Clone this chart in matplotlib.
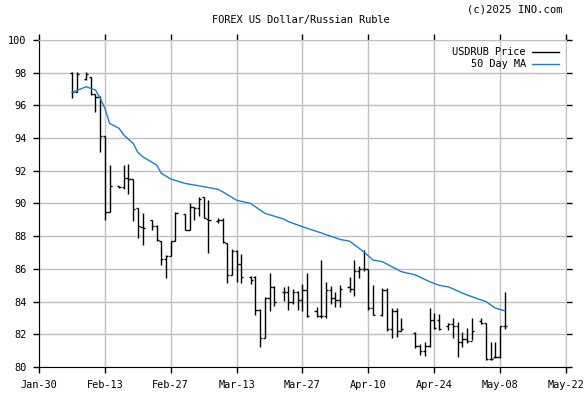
'''
FOREX US Dollar/Russian Ruble - daily bars with 50 day moving average
'''
from datetime import date

import matplotlib
matplotlib.use('Agg')
import matplotlib.pyplot as plt
import matplotlib.dates as mdates

# trading days (Sunday-Friday sessions)
days = ['2025-02-06', '2025-02-07', '2025-02-09', '2025-02-10', '2025-02-11', '2025-02-12',
        '2025-02-13', '2025-02-14', '2025-02-16', '2025-02-17', '2025-02-18', '2025-02-19',
        '2025-02-20', '2025-02-21', '2025-02-23', '2025-02-24', '2025-02-25', '2025-02-26',
        '2025-02-27', '2025-02-28', '2025-03-02', '2025-03-03', '2025-03-04', '2025-03-05',
        '2025-03-06', '2025-03-07', '2025-03-09', '2025-03-10', '2025-03-11', '2025-03-12',
        '2025-03-13', '2025-03-14', '2025-03-16', '2025-03-17', '2025-03-18', '2025-03-19',
        '2025-03-20', '2025-03-21', '2025-03-23', '2025-03-24', '2025-03-25', '2025-03-26',
        '2025-03-27', '2025-03-28', '2025-03-30', '2025-03-31', '2025-04-01', '2025-04-02',
        '2025-04-03', '2025-04-04', '2025-04-06', '2025-04-07', '2025-04-08', '2025-04-09',
        '2025-04-10', '2025-04-11', '2025-04-13', '2025-04-14', '2025-04-15', '2025-04-16',
        '2025-04-17', '2025-04-20', '2025-04-21', '2025-04-22', '2025-04-23', '2025-04-24',
        '2025-04-25', '2025-04-27', '2025-04-28', '2025-04-29', '2025-04-30', '2025-05-01',
        '2025-05-02', '2025-05-04', '2025-05-05', '2025-05-06', '2025-05-07', '2025-05-08',
        '2025-05-09']

opens = [98.0, 96.8, 97.6, 97.75, 96.7, 96.5, 94.1, 89.5, 91.05, 91.0, 91.55, 91.5,
         89.7, 88.55, 89.0, 88.6, 87.7, 86.6, 86.8, 87.7, 89.36, 88.4, 89.8, 89.7,
         90.4, 89.03, 88.9, 89.0, 87.6, 85.63, 87.1, 86.3, 85.5, 85.5, 83.5, 81.8,
         84.2, 84.9, 84.6, 84.6, 84.0, 84.6, 84.1, 84.7, 83.4, 83.1, 83.1, 84.7,
         84.2, 84.1, 84.9, 84.8, 85.9, 86.0, 86.0, 83.6, 83.2, 84.7, 82.3, 83.4,
         82.2, 82.1, 81.3, 81.0, 81.3, 82.9, 82.9, 82.5, 82.6, 82.5, 81.5, 81.7,
         81.6, 82.8, 82.7, 80.5, 80.6, 80.6, 82.5]
highs = [98.06, 98.06, 98.06, 97.76, 96.7, 96.6, 94.1, 92.35, 91.1, 92.35, 92.4, 91.5,
         89.7, 89.4, 89.0, 88.68, 87.7, 86.85, 87.7, 89.5, 89.36, 90.0, 89.8, 90.42,
         90.42, 90.2, 89.09, 89.09, 87.6, 87.2, 87.16, 86.9, 85.55, 85.57, 83.53, 84.26,
         85.77, 84.95, 84.87, 84.95, 84.75, 84.67, 85.1, 85.77, 83.7, 86.54, 85.22, 84.95,
         84.6, 85.01, 85.5, 86.54, 86.2, 87.16, 86.0, 85.0, 84.85, 84.81, 83.59, 83.63,
         83.0, 82.12, 81.4, 81.55, 83.59, 83.28, 83.22, 82.67, 82.98, 82.73, 82.16, 82.4,
         82.98, 82.98, 82.7, 81.55, 81.55, 82.53, 84.57]
lows = [96.45, 96.8, 97.55, 96.64, 95.62, 93.13, 89.0, 89.5, 90.95, 90.9, 90.6, 88.9,
        87.87, 87.46, 88.38, 87.7, 86.24, 85.42, 86.8, 87.7, 88.38, 88.38, 89.0, 89.25,
        89.09, 87.0, 88.79, 87.6, 85.12, 85.6, 85.2, 85.16, 85.1, 83.18, 81.24, 81.8,
        83.44, 83.73, 84.06, 83.49, 83.85, 83.49, 83.44, 83.04, 83.07, 82.98, 82.98, 83.85,
        83.65, 83.69, 84.57, 84.36, 85.42, 85.87, 83.49, 83.18, 83.14, 82.2, 81.79, 81.85,
        82.2, 81.14, 80.73, 80.7, 81.24, 82.32, 82.26, 82.26, 81.75, 80.63, 81.24, 81.45,
        81.65, 82.61, 80.4, 80.4, 80.57, 80.57, 82.32]
closes = [96.8, 97.9, 97.9, 96.7, 96.5, 94.1, 89.5, 91.1, 91.0, 91.55, 91.5, 89.65,
          88.65, 88.5, 88.6, 87.75, 86.6, 86.8, 87.7, 89.4, 88.4, 89.8, 89.7, 90.3,
          89.1, 89.0, 89.0, 87.65, 85.63, 87.1, 86.3, 85.5, 85.3, 83.5, 81.75, 84.2,
          84.9, 84.0, 84.6, 84.0, 84.6, 84.1, 84.7, 83.1, 83.1, 83.1, 84.7, 84.2,
          84.1, 84.8, 84.8, 85.9, 86.0, 86.0, 83.6, 83.2, 84.7, 82.3, 83.4, 82.2,
          82.3, 81.3, 81.0, 81.3, 82.9, 82.4, 82.3, 82.6, 82.5, 81.5, 81.7, 81.6,
          82.2, 82.7, 80.5, 80.5, 80.6, 82.5, 82.5]

# 50 day moving average at a set of dates
ma_days = ['2025-02-06', '2025-02-09', '2025-02-11', '2025-02-12', '2025-02-13', '2025-02-14',
           '2025-02-16', '2025-02-17', '2025-02-19', '2025-02-20', '2025-02-21', '2025-02-24',
           '2025-02-25', '2025-02-27', '2025-03-02', '2025-03-06', '2025-03-09', '2025-03-10',
           '2025-03-13', '2025-03-16', '2025-03-19', '2025-03-23', '2025-03-24', '2025-03-28',
           '2025-03-31', '2025-04-02', '2025-04-04', '2025-04-06', '2025-04-09', '2025-04-11',
           '2025-04-13', '2025-04-17', '2025-04-20', '2025-04-23', '2025-04-25', '2025-04-27',
           '2025-05-01', '2025-05-05', '2025-05-07', '2025-05-09']
ma_values = [96.8, 97.14, 96.94, 96.43, 95.82, 94.9, 94.6, 94.19, 93.68, 93.13, 92.87, 92.35,
             91.85, 91.5, 91.23, 91.03, 90.87, 90.72, 90.2, 90.0, 89.4, 89.05, 88.89, 88.48,
             88.2, 88.0, 87.8, 87.7, 87.05, 86.54, 86.44, 85.83, 85.63, 85.22, 85.0, 84.9,
             84.4, 84.0, 83.6, 83.44]

x_ticks = ['2025-01-30', '2025-02-13', '2025-02-27', '2025-03-13', '2025-03-27',
           '2025-04-10', '2025-04-24', '2025-05-08', '2025-05-22']
y_ticks = list(range(80, 101, 2))


def to_num(lst):
    return [mdates.date2num(date.fromisoformat(d)) for d in lst]


def draw_graph():
    plt.rcParams['font.family'] = 'DejaVu Sans Mono'
    fig = plt.figure(figsize=(5.85, 3.94), dpi=100)
    ax = fig.add_axes([39 / 585, 1 - 367 / 394, 527 / 585, 327 / 394])

    x = to_num(days)
    half = 0.45
    ax.vlines(x, lows, highs, color='black', lw=1.0, zorder=3)
    ax.hlines(opens, [v - half for v in x], x, color='black', lw=1.0, zorder=3)
    ax.hlines(closes, x, [v + half for v in x], color='black', lw=1.0, zorder=3)
    price_handle, = ax.plot([], [], color='black', lw=1)

    ma_handle, = ax.plot(to_num(ma_days), ma_values, color='#1f7fc4', lw=1, zorder=4)

    xt = to_num(x_ticks)
    ax.set_xlim(xt[0], xt[-1])
    ax.set_ylim(80, 100)
    ax.set_xticks(xt)
    ax.set_xticklabels([date.fromisoformat(d).strftime('%b-%d') for d in x_ticks])
    ax.set_yticks(y_ticks)
    ax.grid(True, color='#c0c0c0', lw=1)
    ax.set_axisbelow(True)
    for s in ['top', 'right']:
        ax.spines[s].set_color('#c0c0c0')
    for s in ['left', 'bottom']:
        ax.spines[s].set_color('black')
    ax.tick_params(direction='out', length=4, width=1, labelsize=7.4, pad=5,
                   top=True, right=True, colors='black')

    leg = ax.legend([price_handle, ma_handle], ['USDRUB Price', '50 Day MA'],
                    loc='upper right', frameon=False, markerfirst=False,
                    fontsize=7.4, handlelength=2.6, borderaxespad=0.3,
                    labelspacing=0.2, handletextpad=0.6)
    for t in leg.get_texts():
        t.set_ha('right')

    fig.text(301 / 585, 1 - 20 / 394, 'FOREX US Dollar/Russian Ruble',
             ha='center', va='center', fontsize=7.4)
    fig.text(563 / 585, 1 - 9 / 394, '(c)2025 INO.com',
             ha='right', va='center', fontsize=7.6)

    fig.savefig('out.png', dpi=100)


if __name__ == '__main__':
    draw_graph()
